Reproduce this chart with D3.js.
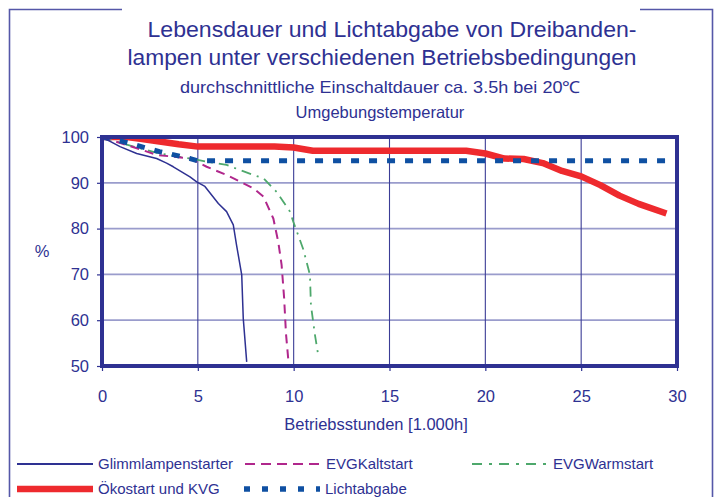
<!DOCTYPE html>
<html>
<head>
<meta charset="utf-8">
<script src="https://cdn.jsdelivr.net/npm/d3@7"></script>
<style>
html,body{margin:0;padding:0;background:#fff;}
svg{display:block;font-family:"Liberation Sans",Arial,sans-serif;}
</style>
</head>
<body>
<svg id="chart" width="718" height="497"></svg>
<script>
// ---- data ----
const titleLines = ["Lebensdauer und Lichtabgabe von Dreibanden-", "lampen unter verschiedenen Betriebsbedingungen"];
const subtitleLines = ["durchschnittliche Einschaltdauer ca. 3.5h bei 20\u2103", "Umgebungstemperatur"];
const xTicks = [0, 5, 10, 15, 20, 25, 30];
const yTicks = [50, 60, 70, 80, 90, 100];
const xLabel = "Betriebsstunden [1.000h]";
const yLabel = "%";
const seriesNames = ["Glimmlampenstarter", "EVGKaltstart", "EVGWarmstart", "\u00d6kostart und KVG", "Lichtabgabe"];

const glimm = [[0,100],[0.94,97.9],[1.81,96.4],[2.85,95.3],[3.37,94.3],[3.72,93.5],[4.59,91.3],[4.94,90.2],[5.37,89.2],[6.07,85.5],[6.5,83.7],[6.85,80.8],[7.02,76.4],[7.29,69.9],[7.37,60.4],[7.55,50.9]];
const kalt = [[0,100],[1,98.6],[2,97.3],[2.85,96.1],[4.59,95.3],[5.46,93.5],[6.5,91.7],[7.9,88.8],[8.42,87],[8.94,82.2],[9.2,77],[9.37,72.1],[9.5,65],[9.6,57],[9.75,50]];
const warm = [[0,100],[1,98.7],[2,97.5],[3,96.4],[4.59,95.3],[5.5,94.6],[6.5,93.9],[7.9,91.7],[8.42,91],[9.11,88],[9.81,83.7],[9.98,81.5],[10.5,75.5],[10.85,69.9],[10.9,63.3],[11.11,56.8],[11.28,52.4]];
const oko = [[0,100],[1.3,100],[2,99.6],[3,99],[4,98.4],[5,97.9],[9,97.9],[10,97.7],[11,97],[19,97],[20,96.4],[21,95.3],[22,95.2],[23,94.3],[24,92.6],[25,91.4],[26,89.5],[27,87.2],[28,85.4],[29.45,83.3]];
const licht = [[0,100],[1.1,99],[3,96.8],[4.6,95.3],[5,94.8],[30,94.8]];

// ---- layout ----
const svg = d3.select("#chart");
const navy = "#2e3192";
const plot = {left:102, right:677, top:137, bottom:366};
const x = d3.scaleLinear().domain([0,30]).range([plot.left, plot.right]);
const y = d3.scaleLinear().domain([50,100]).range([plot.bottom, plot.top]);

svg.append("defs").append("clipPath").attr("id","clip").append("rect")
  .attr("x",plot.left-3).attr("y",plot.top).attr("width",plot.right-plot.left+6).attr("height",plot.bottom-plot.top);

// outer frame
svg.append("path").attr("d","M122,9.5 L9.5,9.5 L9.5,497").attr("fill","none").attr("stroke","#5557a8").attr("stroke-width",1.6);
svg.append("path").attr("d","M640,9.5 L712.5,9.5 L712.5,497").attr("fill","none").attr("stroke","#5557a8").attr("stroke-width",1.6);

// titles
const tl = svg.append("g").attr("fill", navy).attr("text-anchor","middle");
tl.append("text").attr("x",392).attr("y",37).attr("font-size",22).attr("textLength",489).attr("lengthAdjust","spacingAndGlyphs").text(titleLines[0]);
tl.append("text").attr("x",382).attr("y",65).attr("font-size",22).attr("textLength",509).attr("lengthAdjust","spacingAndGlyphs").text(titleLines[1]);
tl.append("text").attr("x",380).attr("y",93).attr("font-size",16.5).attr("textLength",400).attr("lengthAdjust","spacingAndGlyphs").text(subtitleLines[0]);
tl.append("text").attr("x",380).attr("y",118).attr("font-size",16.5).text(subtitleLines[1]);

// gridlines
svg.append("g").selectAll("line").data(yTicks.filter(d=>d>50&&d<100)).join("line")
  .attr("x1",plot.left).attr("x2",plot.right).attr("y1",d=>y(d)).attr("y2",d=>y(d))
  .attr("stroke","#9a9ccc").attr("stroke-width",1.8);
svg.append("g").selectAll("line").data(xTicks.filter(d=>d>0&&d<30)).join("line")
  .attr("y1",plot.top).attr("y2",plot.bottom).attr("x1",d=>x(d)).attr("x2",d=>x(d))
  .attr("stroke","#3b3d96").attr("stroke-width",1.1);

// axes
const xAxis = d3.axisBottom(x).tickValues(xTicks).tickSize(5).tickPadding(19);
const yAxis = d3.axisLeft(y).tickValues(yTicks).tickSize(5).tickPadding(8);
const gx = svg.append("g").attr("transform",`translate(0,${plot.bottom})`).call(xAxis);
const gy = svg.append("g").attr("transform",`translate(${plot.left},0)`).call(yAxis);
[gx,gy].forEach(g=>{
  g.select(".domain").remove();
  g.selectAll(".tick line").attr("stroke",navy).attr("stroke-width",1.2);
  g.selectAll(".tick text").attr("fill",navy).attr("font-size",16.5).attr("font-family","Liberation Sans, Arial, sans-serif");
});

svg.append("text").attr("x",376).attr("y",430).attr("text-anchor","middle").attr("fill",navy)
  .attr("font-size",16.5).text(xLabel);
svg.append("text").attr("x",42).attr("y",257).attr("text-anchor","middle").attr("fill",navy)
  .attr("font-size",16.5).text(yLabel);

// lines
const line = d3.line().x(d=>x(d[0])).y(d=>y(d[1]));
const styles = [
  {data:oko, color:"#ee2a2e", w:6.5, dash:null},
  {data:warm, color:"#4ea86c", w:1.8, dash:"10,6,2,6"},
  {data:kalt, color:"#b0278c", w:2, dash:"9,6"},
  {data:licht, color:"#0f50a2", w:5, dash:"8,10"},
  {data:glimm, color:"#2e3192", w:1.5, dash:null}
];
const lines = svg.append("g").attr("clip-path","url(#clip)");
styles.forEach(s=>{
  lines.append("path").attr("d",line(s.data)).attr("fill","none").attr("stroke",s.color)
    .attr("stroke-width",s.w).attr("stroke-dasharray",s.dash).attr("stroke-linejoin","round");
});

// plot frame
svg.append("rect").attr("x",plot.left).attr("y",plot.top).attr("width",plot.right-plot.left)
  .attr("height",plot.bottom-plot.top).attr("fill","none").attr("stroke",navy).attr("stroke-width",4);

// legend
const legend = [
  {name:seriesNames[0], color:"#2e3192", w:2, dash:null, x:17, y:464},
  {name:seriesNames[1], color:"#b0278c", w:2, dash:"10,6", x:245, y:464},
  {name:seriesNames[2], color:"#4ea86c", w:2, dash:"10,7,3,7", x:472, y:464},
  {name:seriesNames[3], color:"#ee2a2e", w:6.5, dash:null, x:17, y:489},
  {name:seriesNames[4], color:"#0f50a2", w:5.5, dash:"6,12", x:244, y:489}
];
const lg = svg.append("g");
legend.forEach(l=>{
  lg.append("line").attr("x1",l.x).attr("x2",l.x+76).attr("y1",l.y).attr("y2",l.y)
    .attr("stroke",l.color).attr("stroke-width",l.w).attr("stroke-dasharray",l.dash);
  lg.append("text").attr("x",l.x+81).attr("y",l.y+5).attr("fill",navy).attr("font-size",15)
    .text(l.name);
});
</script>
</body>
</html>
